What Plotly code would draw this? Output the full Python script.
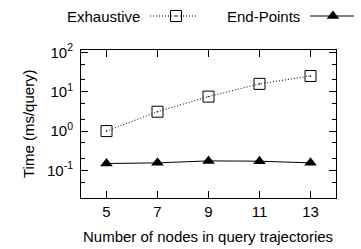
import plotly.graph_objects as go
import math

# ---- data ----
nodes = [5, 7, 9, 11, 13]
exhaustive = [1.0, 3.1, 7.5, 15.8, 25.0]
end_points = [0.15, 0.156, 0.175, 0.172, 0.156]
x_ticks = [5, 7, 9, 11, 13]
y_tickvals = [0.1, 1, 10, 100]
y_ticktext = ['10<sup>-1</sup>', '10<sup>0</sup>', '10<sup>1</sup>', '10<sup>2</sup>']
y_minor = [0.02, 0.05, 0.2, 0.5, 2, 5, 20, 50]
series_names = ['Exhaustive', 'End-Points']

FONT = dict(family='Liberation Sans, Arial, sans-serif', size=15, color='black')
W, H = 361, 249
L, R, T, B = 81, 5, 4, 51
plot_right = 336
plot_top = 49.5

fig = go.Figure()

fig.add_trace(go.Scatter(
    x=nodes, y=exhaustive, mode='lines+markers', name=series_names[0],
    line=dict(color='black', width=1, dash='1px,2px'),
    marker=dict(symbol='square-open-dot', size=11, color='black', line=dict(width=1, color='black')),
    showlegend=False, xaxis='x', yaxis='y'))
fig.add_trace(go.Scatter(
    x=nodes, y=end_points, mode='lines+markers', name=series_names[1],
    line=dict(color='black', width=1),
    marker=dict(symbol='triangle-up', size=11, color='black'),
    showlegend=False, xaxis='x', yaxis='y'))

# legend keys (gnuplot style: text then sample) on a separate pixel axis
leg_y = 16
fig.add_trace(go.Scatter(x=[150, 198], y=[leg_y, leg_y], mode='lines',
                         line=dict(color='black', width=1, dash='1px,2px'),
                         showlegend=False, xaxis='x2', yaxis='y2', hoverinfo='skip'))
fig.add_trace(go.Scatter(x=[176], y=[leg_y], mode='markers',
                         marker=dict(symbol='square-open-dot', size=11, color='black', line=dict(width=1)),
                         showlegend=False, xaxis='x2', yaxis='y2', hoverinfo='skip'))
fig.add_trace(go.Scatter(x=[310, 354], y=[leg_y, leg_y], mode='lines',
                         line=dict(color='black', width=1),
                         showlegend=False, xaxis='x2', yaxis='y2', hoverinfo='skip'))
fig.add_trace(go.Scatter(x=[333], y=[leg_y], mode='markers',
                         marker=dict(symbol='triangle-up', size=11, color='black'),
                         showlegend=False, xaxis='x2', yaxis='y2', hoverinfo='skip'))

pw = W - L - R
ph = H - T - B
fig.update_layout(
    width=W, height=H,
    margin=dict(l=L, r=R, t=T, b=B, pad=0, autoexpand=False),
    paper_bgcolor='white', plot_bgcolor='rgba(0,0,0,0)',
    font=FONT,
    showlegend=False,
    xaxis=dict(domain=[0, (plot_right - L) / pw], range=[4, 14],
               tickvals=x_ticks, ticks='inside', ticklen=7, tickcolor='black',
               showline=True, linecolor='black', linewidth=1, mirror='ticks',
               showgrid=False, zeroline=False, tickfont=FONT, anchor='y', automargin=False),
    yaxis=dict(domain=[0, (H - B - plot_top) / ph], type='log',
               range=[math.log10(0.02), 2.071],
               tickvals=y_tickvals, ticktext=y_ticktext,
               ticks='inside', ticklen=7, tickcolor='black',
               minor=dict(tickvals=y_minor, ticks='inside', ticklen=4, tickcolor='black'),
               showline=True, linecolor='black', linewidth=1, mirror='ticks',
               showgrid=False, zeroline=False, tickfont=FONT, anchor='x', ticklabelstandoff=4,
               automargin=False),
    xaxis2=dict(domain=[0, 1], range=[L, W - R], visible=False, anchor='y2', automargin=False),
    yaxis2=dict(domain=[0, 1], range=[H - B, T], visible=False, anchor='x2', automargin=False),
    annotations=[
        dict(text='Exhaustive', xref='x2', yref='y2', x=142, y=leg_y, xanchor='right',
             yanchor='middle', showarrow=False, font=FONT),
        dict(text='End-Points', xref='x2', yref='y2', x=302, y=leg_y, xanchor='right',
             yanchor='middle', showarrow=False, font=FONT),
        dict(text='Number of nodes in query trajectories', xref='paper', yref='paper',
             x=(208 - L) / pw, y=0, yshift=-38, xanchor='center', yanchor='middle',
             showarrow=False, font=FONT),
        dict(text='Time (ms/query)', xref='paper', yref='paper',
             x=0, xshift=28 - L, y=((H - B) - 124) / ph, yanchor='middle', xanchor='center',
             textangle=-90, showarrow=False, font=FONT),
    ],
)

fig.write_html('out.html', config={'displayModeBar': False, 'staticPlot': True},
               post_script="document.body.style.margin='0px';document.body.style.overflow='hidden';")
